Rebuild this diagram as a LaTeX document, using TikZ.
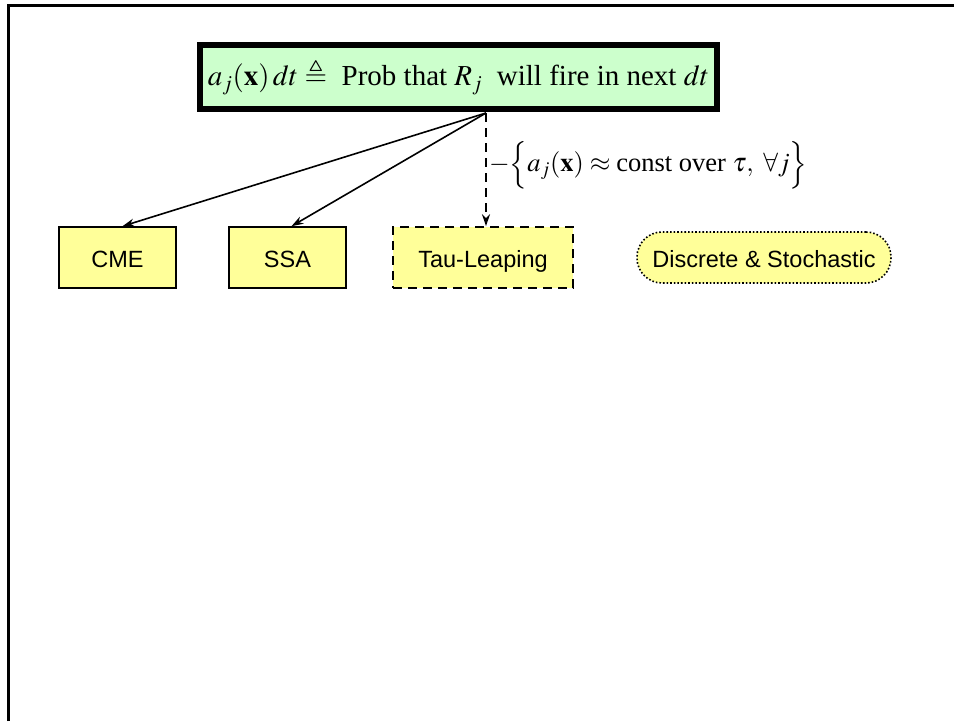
\documentclass[tikz,border=0pt]{standalone}
\usepackage{amsmath,amssymb}
\usepackage{mathptmx}
\usepackage{fontspec}
\setmainfont{Liberation Serif}
\setsansfont{Liberation Sans}
\definecolor{mintgreen}{RGB}{204,255,204}
\definecolor{paleyellow}{RGB}{255,255,153}
\usetikzlibrary{arrows.meta,positioning,calc}

\tikzset{
  method/.style={draw, line width=1.6pt, fill=paleyellow, minimum width=117pt,
                 minimum height=61pt, inner sep=0pt, text height=22pt, text depth=2pt,
                 font=\sffamily\fontsize{23.5}{28}\selectfont},
  link/.style={line width=1.6pt, -{Stealth[length=12pt,width=8pt]}},
}

\begin{document}
\begin{tikzpicture}[x=1pt, y=-1pt]
    \useasboundingbox (0,0) rectangle (954,721);
    % slide frame
    \draw[line width=3pt] (8,721) -- (8,5) -- (954,5);

    % propensity definition
    \node[draw, line width=4pt, fill=mintgreen, minimum width=519pt, minimum height=66pt,
          inner sep=0pt, font=\fontsize{29}{34}\selectfont] (prop) at (458.5,77)
      {$a_j(\mathbf{x})\,dt \triangleq$\ \ Prob that $R_j$\ \ will fire in next $dt$};
    \draw[line width=1.2pt] ([shift={(5,5)}]prop.north west) rectangle ([shift={(-5,-5)}]prop.south east);
    \coordinate (fork) at (486,113);

    % methods
    \node[method] (cme) at (117.5,257.5) {CME};
    \node[method] (ssa) at (287.5,257.5) {SSA};
    \node[method, dashed, dash pattern=on 9pt off 6pt, minimum width=180pt] (tau) at (483,257.5) {Tau-Leaping};
    \node[method, dotted, rounded corners=25pt, minimum width=254pt, minimum height=51pt] (kind) at (764,257.5)
      {Discrete \& Stochastic};

    \draw[link] (fork) -- ($(cme.north)+(5,0)$);
    \draw[link] (fork) -- ($(ssa.north)+(4,0)$);
    \draw[link, dashed, dash pattern=on 9pt off 6pt] (fork) -- (fork |- tau.north);
    \node[anchor=west, inner sep=0pt, font=\fontsize{26.5}{30}\selectfont] (cond) at (489,165)
      {$-\Bigl\{a_j(\mathbf{x}) \approx \text{const over }\tau,\ \forall j\Bigr\}$};
  \end{tikzpicture}
\end{document}
